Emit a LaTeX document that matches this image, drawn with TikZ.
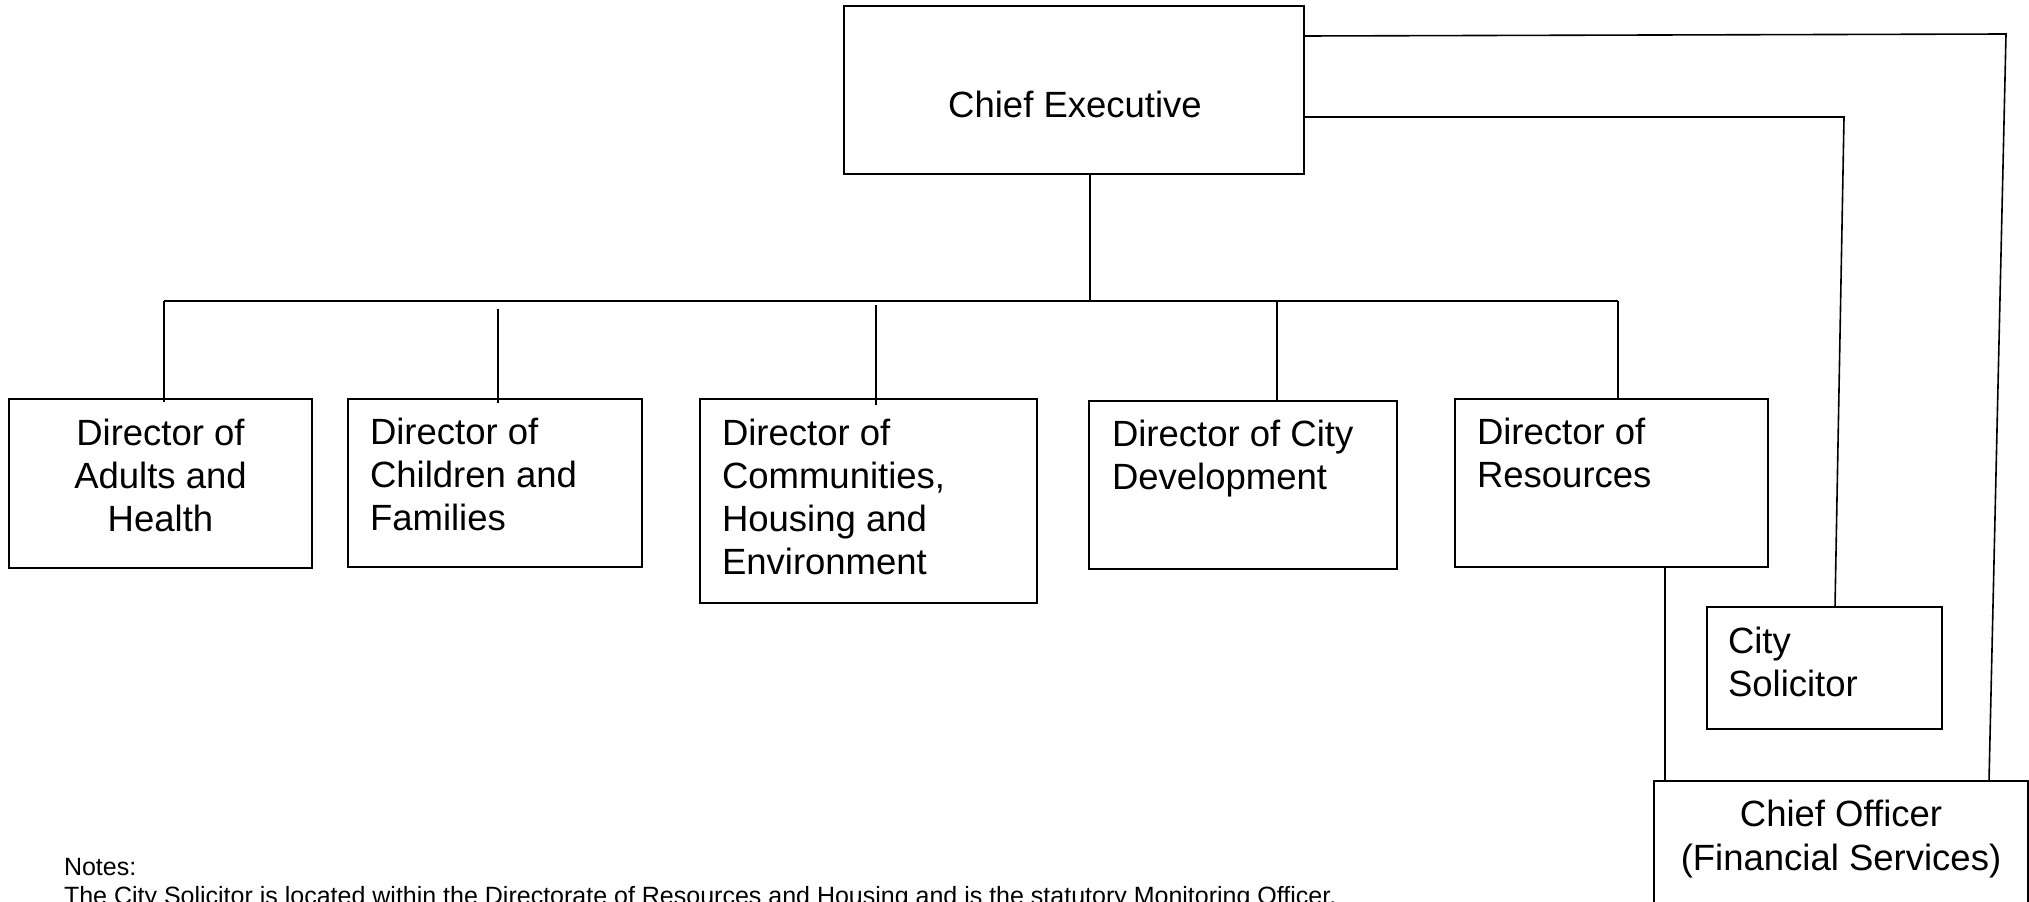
\documentclass[tikz,border=0pt]{standalone}
\usepackage{fontspec}
\setmainfont{Liberation Sans}
\usetikzlibrary{calc}
\tikzset{
  box/.style={draw=black, line width=2pt, rectangle, inner sep=0pt, outer sep=0pt, anchor=north west},
  conn/.style={draw=black, line width=1.6pt},
  lbl/.style={inner sep=0pt, outer sep=0pt, font=\fontsize{36.5}{43.3}\selectfont, align=left, anchor=base west},
  lblc/.style={lbl, align=center, anchor=base},
  note/.style={inner sep=0pt, outer sep=0pt, font=\fontsize{25}{30}\selectfont, anchor=base west},
}
\begin{document}
\begin{tikzpicture}[x=1pt,y=-1pt]
\useasboundingbox (0,0) rectangle (2029,902);
\clip (0,0) rectangle (2029,902);
% boxes
\node[box, minimum width=460pt, minimum height=168pt] (ce) at (844,6) {};
\node[box, minimum width=303pt, minimum height=169pt] (adults) at (9,399) {};
\node[box, minimum width=294pt, minimum height=168pt] (children) at (348,399) {};
\node[box, minimum width=337pt, minimum height=204pt] (comm) at (700,399) {};
\node[box, minimum width=308pt, minimum height=168pt] (citydev) at (1089,401) {};
\node[box, minimum width=313pt, minimum height=168pt] (res) at (1455,399) {};
\node[box, minimum width=235pt, minimum height=122pt] (sol) at (1707,607) {};
\node[box, minimum width=374pt, minimum height=200pt] (cfo) at (1654,781) {};
% texts (anchor = baseline of the last line)
\node[lblc] (ceT) at (1075,117) {Chief Executive};
\node[lblc] (adultsT) at (160.5,531.6) {Director of\\Adults and\\Health};
\node[lbl] (childrenT) at (370,530.6) {Director of\\Children and\\Families};
\node[lbl] (commT) at (722,574.9) {Director of\\Communities,\\Housing and\\Environment};
\node[lbl] (citydevT) at (1112,489.3) {Director of City\\Development};
\node[lbl] (resT) at (1477,487.3) {Director of\\Resources};
\node[lbl] (solT) at (1728,696.3) {City\\Solicitor};
\node[lblc] (cfoT) at (1841,870) {Chief Officer\\(Financial Services)};
% connectors
\coordinate (barL) at (164,301);
\coordinate (barC) at (1090,301);
\coordinate (barR) at (1618,301);
\coordinate (dCh) at (498,309);
\coordinate (dCo) at (876,305);
\coordinate (dCd) at (1277,301);
\coordinate (rX) at (1665,0);
\coordinate (k1) at (2006,34);
\coordinate (k2) at (1844,117);
\draw[conn] (ce.south -| barC) -- (barC);
\draw[conn] (barL) -- (barR);
\draw[conn] (barL) -- ($(adults.north -| barL)+(0,3)$);
\draw[conn] (dCh) -- ($(children.north -| dCh)+(0,4)$);
\draw[conn] (dCo) -- ($(comm.north -| dCo)+(0,6)$);
\draw[conn] (dCd) -- (citydev.north -| dCd);
\draw[conn] (barR) -- (res.north -| barR);
\draw[conn] (res.south -| rX) -- (cfo.north -| rX);
\draw[conn] ($(ce.north east)+(0,30)$) -- (k1) -- ($(cfo.north west)+(335,0)$);
\draw[conn] ($(ce.north east)+(0,111)$) -- (k2) -- ($(sol.north west)+(128,0)$);
% notes
\node[note] (notes1) at (64,875) {Notes:};
\node[note] (notes2) at (64,904) {The City Solicitor is located within the Directorate of Resources and Housing and is the statutory Monitoring Officer.};
\end{tikzpicture}
\end{document}
